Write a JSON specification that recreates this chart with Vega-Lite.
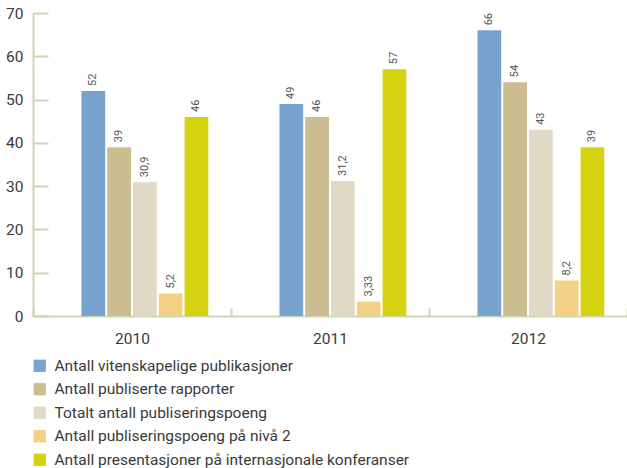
{
  "$schema": "https://vega.github.io/schema/vega-lite/v6.json",
  "width": 594,
  "height": 303,
  "autosize": {"type": "none"},
  "padding": {"left": 33, "top": 13, "right": 0, "bottom": 152},
  "background": "white",
  "config": {
    "font": "Roboto",
    "view": {"stroke": null},
    "axis": {"grid": false, "domainColor": "#cbd7b6", "domainWidth": 2, "tickColor": "#cbd7b6", "tickWidth": 2, "labelColor": "#3a3a3a", "labelFontSize": 15.5, "title": null}
  },
  "data": {
    "values": [
      {"year": "2010", "series": "Antall vitenskapelige publikasjoner", "value": 52, "label": "52"},
      {"year": "2010", "series": "Antall publiserte rapporter", "value": 39, "label": "39"},
      {"year": "2010", "series": "Totalt antall publiseringspoeng", "value": 30.9, "label": "30,9"},
      {"year": "2010", "series": "Antall publiseringspoeng på nivå 2", "value": 5.2, "label": "5,2"},
      {"year": "2010", "series": "Antall presentasjoner på internasjonale konferanser", "value": 46, "label": "46"},
      {"year": "2011", "series": "Antall vitenskapelige publikasjoner", "value": 49, "label": "49"},
      {"year": "2011", "series": "Antall publiserte rapporter", "value": 46, "label": "46"},
      {"year": "2011", "series": "Totalt antall publiseringspoeng", "value": 31.2, "label": "31,2"},
      {"year": "2011", "series": "Antall publiseringspoeng på nivå 2", "value": 3.33, "label": "3,33"},
      {"year": "2011", "series": "Antall presentasjoner på internasjonale konferanser", "value": 57, "label": "57"},
      {"year": "2012", "series": "Antall vitenskapelige publikasjoner", "value": 66, "label": "66"},
      {"year": "2012", "series": "Antall publiserte rapporter", "value": 54, "label": "54"},
      {"year": "2012", "series": "Totalt antall publiseringspoeng", "value": 43, "label": "43"},
      {"year": "2012", "series": "Antall publiseringspoeng på nivå 2", "value": 8.2, "label": "8,2"},
      {"year": "2012", "series": "Antall presentasjoner på internasjonale konferanser", "value": 39, "label": "39"}
    ]
  },
  "encoding": {
    "x": {
      "field": "year", "type": "nominal",
      "scale": {"paddingInner": 0, "paddingOuter": 0},
      "axis": {"labelAngle": 0, "tickBand": "extent", "tickSize": -8, "labelPadding": 23}
    },
    "xOffset": {
      "field": "series", "type": "nominal",
      "scale": {"domain": ["_", "Antall vitenskapelige publikasjoner", "Antall publiserte rapporter", "Totalt antall publiseringspoeng", "Antall publiseringspoeng på nivå 2", "Antall presentasjoner på internasjonale konferanser"], "paddingInner": 0.08, "paddingOuter": 0.88}
    },
    "y": {
      "field": "value", "type": "quantitative",
      "scale": {"domain": [0, 70], "nice": false},
      "axis": {"values": [0, 10, 20, 30, 40, 50, 60, 70], "tickSize": -15, "labelPadding": 25}
    }
  },
  "layer": [
    {
      "mark": {"type": "bar"},
      "encoding": {
        "color": {
          "field": "series", "type": "nominal",
          "scale": {"domain": ["Antall vitenskapelige publikasjoner", "Antall publiserte rapporter", "Totalt antall publiseringspoeng", "Antall publiseringspoeng på nivå 2", "Antall presentasjoner på internasjonale konferanser"], "range": ["#78a3cf", "#cbbd8f", "#dfd9c6", "#f2d085", "#d5d310"]},
          "legend": {"title": null, "orient": "none", "legendX": -1, "legendY": 345, "direction": "vertical", "symbolType": "square", "symbolSize": 150, "symbolStrokeWidth": 0, "labelFontSize": 15.5, "labelColor": "#3a3a3a", "rowPadding": 6.5, "labelOffset": 7, "labelLimit": 600}
        }
      }
    },
    {
      "mark": {"type": "text", "angle": 270, "align": "left", "baseline": "middle", "dx": 5, "fontSize": 11, "color": "#555555"},
      "encoding": {"text": {"field": "label"}}
    }
  ]
}
